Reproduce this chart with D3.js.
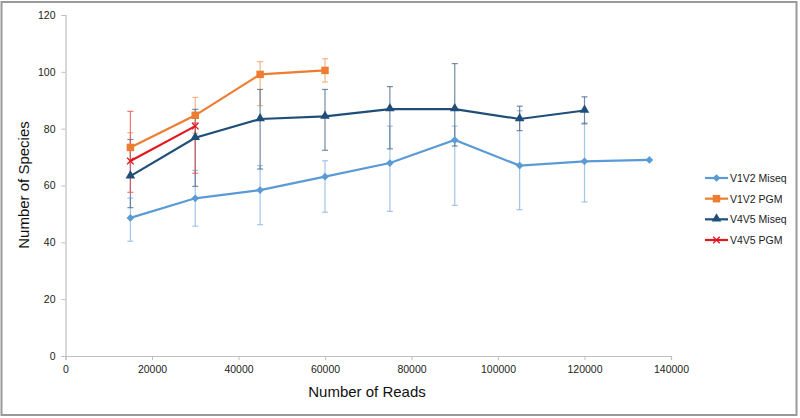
<!DOCTYPE html>
<html>
<head>
<meta charset="utf-8">
<script src="https://cdn.jsdelivr.net/npm/d3@7"></script>
<style>
  html, body { margin: 0; padding: 0; background: #fff; }
  svg { display: block; font-family: "Liberation Sans", Arial, sans-serif; }
</style>
</head>
<body>
<div id="chart"></div>
<script>
// reads per sample
const reads = [15000, 30000, 45000, 60000, 75000, 90000, 105000, 120000, 135000];

const seriesNames = ['V1V2 Miseq', 'V1V2 PGM', 'V4V5 Miseq', 'V4V5 PGM'];

// V1V2 Miseq
const v12MiseqVal  = [48.6, 55.5, 58.4, 63.1, 67.9, 76.0, 67.0, 68.5, 69.0];
const v12MiseqLow  = [40.4, 45.7, 46.2, 50.6, 50.9, 53.0, 51.5, 54.2, null];
const v12MiseqHigh = [55.6, 65.3, 67.0, 68.7, 80.9, 80.9, 86.3, 82.0, null];

// V1V2 PGM
const v12PgmVal  = [73.4, 84.7, 99.1, 100.5];
const v12PgmLow  = [68.2, 78.4, 88.1, 96.4];
const v12PgmHigh = [78.6, 91.0, 103.6, 104.6];

// V4V5 Miseq
const v45MiseqVal  = [63.3, 76.8, 83.4, 84.3, 86.9, 86.9, 83.4, 86.4];
const v45MiseqLow  = [52.2, 59.7, 65.8, 72.4, 72.9, 73.9, 79.3, 81.7];
const v45MiseqHigh = [76.2, 86.8, 93.8, 93.8, 94.8, 102.9, 87.9, 91.2];

// V4V5 PGM
const v45PgmVal  = [68.6, 80.9];
const v45PgmLow  = [57.6, 64.3];
const v45PgmHigh = [86.1, 82.0];

const xTicks = [0, 20000, 40000, 60000, 80000, 100000, 120000, 140000];
const yTicks = [0, 20, 40, 60, 80, 100, 120];

const width = 800, height = 418;

const x = d3.scaleLinear().domain([0, 140000]).range([65.5, 671]);
const y = d3.scaleLinear().domain([0, 120]).range([356, 15]);

const build = (vals, lows, highs) => vals.map((v, i) => ({ x: reads[i], v, lo: lows[i], hi: highs[i] }));

const series = [
  { name: seriesNames[0], color: '#5b9bd5', errColor: '#8fb8e2', marker: 'diamond', pts: build(v12MiseqVal, v12MiseqLow, v12MiseqHigh) },
  { name: seriesNames[1], color: '#ed7d31', errColor: '#f2a56e', marker: 'square', pts: build(v12PgmVal, v12PgmLow, v12PgmHigh) },
  { name: seriesNames[2], color: '#1f4e79', errColor: '#52708f', marker: 'triangle', pts: build(v45MiseqVal, v45MiseqLow, v45MiseqHigh) },
  { name: seriesNames[3], color: '#e3171f', errColor: '#e8555a', marker: 'x', pts: build(v45PgmVal, v45PgmLow, v45PgmHigh) }
];

const svg = d3.select('#chart').append('svg')
  .attr('width', width).attr('height', height);

// frame
svg.append('rect')
  .attr('x', 1.5).attr('y', 2).attr('width', 795).attr('height', 413)
  .style('fill', '#fff').style('stroke', '#9a9a9a').style('stroke-width', 2);

// axes
const axisColor = '#bfbfbf';
const gx = svg.append('g')
  .attr('transform', `translate(0,${y(0)})`)
  .call(d3.axisBottom(x).tickValues(xTicks).tickSize(4).tickPadding(6).tickFormat(d3.format('d')));
const gy = svg.append('g')
  .attr('transform', `translate(${x(0)},0)`)
  .call(d3.axisLeft(y).tickValues(yTicks).tickSize(4).tickPadding(6));
[gx, gy].forEach(g => {
  g.select('.domain').style('stroke', axisColor).style('stroke-width', 1.2);
  g.selectAll('.tick line').style('stroke', axisColor);
  g.selectAll('.tick text').style('font-size', '10.5px').style('fill', '#222')
    .style('font-family', '"Liberation Sans", Arial, sans-serif');
});

// axis titles
svg.append('text')
  .attr('x', 367).attr('y', 397)
  .style('text-anchor', 'middle').style('font-size', '15px').style('fill', '#111')
  .text('Number of Reads');
svg.append('text')
  .attr('transform', 'translate(29,185) rotate(-90)')
  .style('text-anchor', 'middle').style('font-size', '15px').style('fill', '#111')
  .text('Number of Species');

function drawMarker(g, type, color, cx, cy) {
  if (type === 'diamond') {
    g.append('path').attr('d', d3.symbol(d3.symbolSquare, 30)())
      .attr('transform', `translate(${cx},${cy}) rotate(45)`).style('fill', color);
  } else if (type === 'square') {
    g.append('path').attr('d', d3.symbol(d3.symbolSquare, 56)())
      .attr('transform', `translate(${cx},${cy})`).style('fill', color);
  } else if (type === 'triangle') {
    g.append('path').attr('d', d3.symbol(d3.symbolTriangle, 40)())
      .attr('transform', `translate(${cx},${cy - 0.5})`).style('fill', color);
  } else if (type === 'x') {
    g.append('path').attr('d', d3.symbol(d3.symbolX, 30)())
      .attr('transform', `translate(${cx},${cy})`)
      .style('fill', 'none').style('stroke', color).style('stroke-width', 1.3);
  }
}

// error bars first
series.forEach(s => {
  const g = svg.append('g').attr('class', 'err');
  s.pts.filter(p => p.lo != null).forEach(p => {
    const px = x(p.x);
    g.append('line')
      .attr('x1', px).attr('x2', px).attr('y1', y(p.lo)).attr('y2', y(p.hi))
      .style('stroke', s.errColor).style('stroke-width', 1.2).style('opacity', 0.8);
    [p.lo, p.hi].forEach(v => {
      g.append('line')
        .attr('x1', px - 3).attr('x2', px + 3).attr('y1', y(v)).attr('y2', y(v))
        .style('stroke', s.errColor).style('stroke-width', 1.2).style('opacity', 0.8);
    });
  });
});

const line = d3.line().x(p => x(p.x)).y(p => y(p.v));
series.forEach(s => {
  svg.append('path').datum(s.pts).attr('d', line)
    .style('fill', 'none').style('stroke', s.color).style('stroke-width', 2.2);
  const g = svg.append('g');
  s.pts.forEach(p => drawMarker(g, s.marker, s.color, x(p.x), y(p.v)));
});

// legend
const legendY = d3.scalePoint().domain(seriesNames).range([178, 240]);
series.forEach(s => {
  const ly = legendY(s.name);
  const g = svg.append('g');
  g.append('line').attr('x1', 705).attr('x2', 728).attr('y1', ly).attr('y2', ly)
    .style('stroke', s.color).style('stroke-width', 2.2);
  drawMarker(g, s.marker, s.color, 716.5, ly);
  g.append('text').attr('x', 730).attr('y', ly + 4)
    .style('font-size', '10.5px').style('fill', '#222').text(s.name);
});
</script>
</body>
</html>
